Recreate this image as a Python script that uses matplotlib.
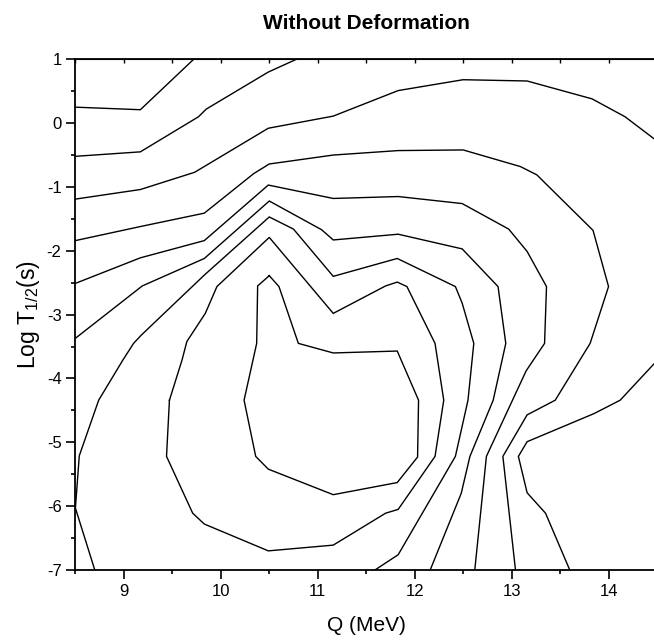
import matplotlib
matplotlib.use("Agg")
import matplotlib.pyplot as plt
from matplotlib.ticker import MultipleLocator, FuncFormatter

# contour lines, (Q, log T) pairs
line_a_x = [8.5, 9.17, 9.72]
line_a_y = [0.25, 0.21, 1.0]

line_b_x = [8.5, 9.17, 9.77, 9.85, 10.49, 10.78]
line_b_y = [-0.52, -0.45, 0.10, 0.22, 0.80, 1.0]

line_c_x = [8.5, 9.17, 9.73, 10.49, 11.16, 11.83, 12.50, 13.16, 13.83, 14.17, 14.5]
line_c_y = [-1.19, -1.04, -0.77, -0.08, 0.11, 0.51, 0.68, 0.66, 0.38, 0.10, -0.28]

line_d_x = [8.5, 9.17, 9.83, 10.34, 10.50, 11.16, 11.83, 12.50, 13.09, 13.26, 13.84,
            14.0, 13.81, 13.45, 13.16, 12.91, 13.04]
line_d_y = [-1.84, -1.62, -1.41, -0.79, -0.64, -0.50, -0.43, -0.42, -0.68, -0.81, -1.68,
            -2.56, -3.45, -4.34, -4.57, -5.22, -7.0]

line_e_x = [8.5, 9.17, 9.83, 10.49, 11.16, 11.83, 12.49, 12.97, 13.16, 13.36, 13.34,
            13.15, 12.74, 12.62]
line_e_y = [-2.51, -2.11, -1.84, -0.97, -1.18, -1.15, -1.26, -1.66, -2.01, -2.56, -3.45,
            -3.88, -5.22, -7.0]

line_f_x = [8.5, 9.19, 9.83, 10.50, 11.04, 11.16, 11.83, 12.49, 12.86, 12.94, 12.81,
            12.57, 12.48, 12.16]
line_f_y = [-3.37, -2.55, -2.12, -1.22, -1.67, -1.83, -1.74, -1.97, -2.56, -3.45, -4.34,
            -5.22, -5.80, -7.0]

line_g_x = [8.70, 8.50, 8.54, 8.74, 8.99, 9.10, 9.18, 9.83, 10.50, 10.75, 11.16, 11.82,
            12.42, 12.49, 12.61, 12.55, 12.42, 11.83, 11.59]
line_g_y = [-7.0, -6.03, -5.21, -4.34, -3.71, -3.45, -3.32, -2.38, -1.47, -1.66, -2.40, -2.12,
            -2.56, -2.82, -3.45, -4.34, -5.22, -6.76, -7.0]

line_h_x = [9.47, 9.60, 9.65, 9.84, 9.96, 10.50, 11.16, 11.70, 11.82, 11.92, 12.21, 12.30,
            12.21, 11.83, 11.70, 11.16, 10.49, 9.83, 9.71, 9.44, 9.47]
line_h_y = [-4.34, -3.71, -3.42, -2.98, -2.56, -1.79, -2.98, -2.55, -2.49, -2.56, -3.45, -4.34,
            -5.22, -6.05, -6.11, -6.61, -6.70, -6.28, -6.11, -5.22, -4.34]

line_i_x = [10.50, 10.60, 10.80, 11.16, 11.82, 12.04, 12.03, 11.82, 11.16, 10.49, 10.36,
            10.24, 10.37, 10.38, 10.50]
line_i_y = [-2.39, -2.56, -3.45, -3.60, -3.57, -4.34, -5.23, -5.63, -5.82, -5.42, -5.22,
            -4.34, -3.45, -2.55, -2.39]

line_r_x = [14.5, 14.12, 13.85, 13.16, 13.07, 13.16, 13.35, 13.60]
line_r_y = [-3.72, -4.34, -4.55, -4.99, -5.22, -5.79, -6.11, -7.0]

contours = [
    (line_a_x, line_a_y), (line_b_x, line_b_y), (line_c_x, line_c_y),
    (line_d_x, line_d_y), (line_e_x, line_e_y), (line_f_x, line_f_y),
    (line_g_x, line_g_y), (line_h_x, line_h_y), (line_i_x, line_i_y),
    (line_r_x, line_r_y),
]

plt.rcParams['font.family'] = ['Liberation Sans', 'DejaVu Sans']
plt.rcParams['mathtext.fontset'] = 'custom'
plt.rcParams['mathtext.rm'] = 'Liberation Sans'
plt.rcParams['mathtext.it'] = 'Liberation Sans:italic'
plt.rcParams['axes.unicode_minus'] = False

fig = plt.figure(figsize=(6.54, 6.43), dpi=100)
# right edge of the frame lies just past the picture, as in the original
ax = fig.add_axes([0.1153, 0.1135, 0.8893, 0.7943])

for xs, ys in contours:
    ax.plot(xs, ys, color='black', lw=1.0, solid_joinstyle='miter')

ax.set_xlim(8.5, 14.5)
ax.set_ylim(-7, 1)

ax.xaxis.set_major_locator(MultipleLocator(1))
ax.xaxis.set_minor_locator(MultipleLocator(0.5))
ax.yaxis.set_major_locator(MultipleLocator(1))
ax.yaxis.set_minor_locator(MultipleLocator(0.5))
ax.xaxis.set_major_formatter(FuncFormatter(lambda v, p: "%d" % round(v)))
ax.yaxis.set_major_formatter(FuncFormatter(lambda v, p: "%d" % round(v)))

ax.tick_params(axis='both', which='major', direction='out', length=6.5, width=1.2,
               labelsize=12, colors='black')
ax.tick_params(axis='both', which='minor', direction='out', length=3, width=1.2)
ax.tick_params(axis='x', which='both', top=False)
ax.tick_params(axis='y', which='both', right=False)

for s in ax.spines.values():
    s.set_linewidth(1.3)
ax.spines['right'].set_visible(False)

# top ticks point inward
sec = ax.secondary_xaxis('top')
sec.xaxis.set_major_locator(MultipleLocator(0.5))
sec.tick_params(direction='in', length=3, width=1.0, labeltop=False)
sec.set_xticklabels([])

ax.set_xlabel('Q (MeV)', fontsize=15, labelpad=12)
ax.set_ylabel(r'Log T$_{\mathrm{1/2}}$(s)', fontsize=16.5, labelpad=3)
ax.set_title('Without Deformation', fontsize=15, fontweight='bold', pad=22)

fig.savefig('out.png', dpi=100)
